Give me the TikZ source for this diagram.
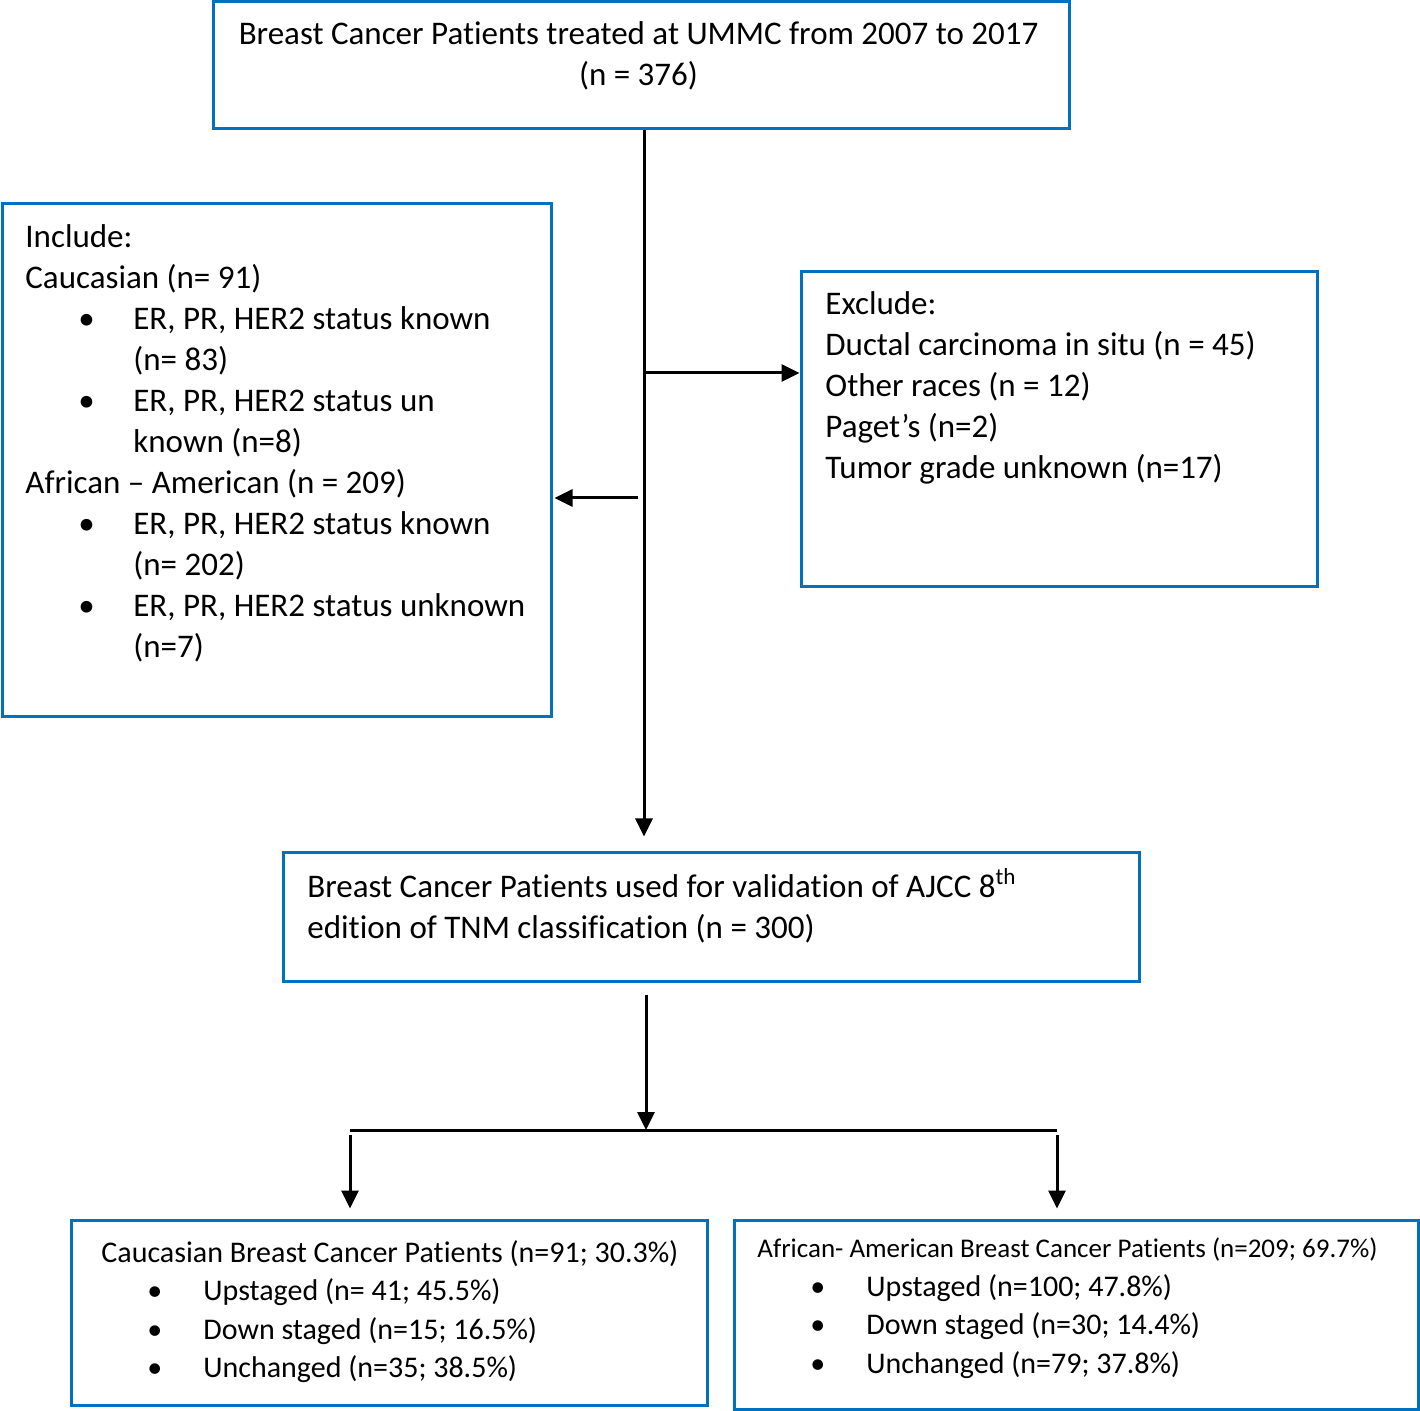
\documentclass[tikz,border=0pt]{standalone}
\usepackage{fontspec}
\setmainfont{Carlito}[Ligatures=NoCommon]
\usetikzlibrary{arrows.meta,fit}
\definecolor{boxblue}{HTML}{0070C0}
\newcommand\bl[2]{\hspace*{#1}\makebox[#2][l]{•}}
\newcommand\hg[1]{\hspace*{#1}}
\begin{document}
\begin{tikzpicture}[x=0.5pt,y=-0.5pt,
  box/.style={draw=boxblue,line width=1.5pt,inner sep=0pt},
  txt/.style={inner sep=0pt,align=left,font=\fontsize{16.5pt}{20.5pt}\selectfont},
  stxt/.style={inner sep=0pt,align=left,font=\fontsize{15pt}{19.25pt}\selectfont},
  arr/.style={line width=1.5pt,-{Triangle[length=9pt,width=8.5pt]}},
  ln/.style={line width=1.5pt}]
\useasboundingbox (0,0) rectangle (1420,1411);
% boxes
\node[box,fit={(213,2)(1069,129)}] (top) {};
\node[box,fit={(2,204)(551,717)}] (incl) {};
\node[box,fit={(801,272)(1317,587)}] (excl) {};
\node[box,fit={(283,853)(1139,981)}] (mid) {};
\node[box,fit={(71,1220)(707,1405)}] (cauc) {};
\node[box,fit={(734,1220)(1418,1409)}] (afam) {};
% texts (anchor = baseline of last line)
\node[txt,align=center,anchor=base] (topT) at (638.5,86)
  {Breast Cancer Patients treated at UMMC from 2007 to 2017\\(n = 376)};
\node[txt,anchor=base west] (inclT) at (25,658)
  {Include:\\
   Caucasian (n= 91)\\
   \bl{26.5pt}{27.5pt}ER, PR, HER2 status known\\
   \hg{54pt}(n= 83)\\
   \bl{26.5pt}{27.5pt}ER, PR, HER2 status un\\
   \hg{54pt}known (n=8)\\
   African – American (n = 209)\\
   \bl{26.5pt}{27.5pt}ER, PR, HER2 status known\\
   \hg{54pt}(n= 202)\\
   \bl{26.5pt}{27.5pt}ER, PR, HER2 status unknown\\
   \hg{54pt}(n=7)};
\node[txt,anchor=base west] (exclT) at (825,479)
  {Exclude:\\
   Ductal carcinoma in situ (n = 45)\\
   Other races (n = 12)\\
   Paget’s (n=2)\\
   Tumor grade unknown (n=17)};
\node[txt,anchor=base west] (midT) at (307,938)
  {Breast Cancer Patients used for validation of AJCC 8\textsuperscript{th}\\
   edition of TNM classification (n = 300)};
\node[stxt,anchor=base west] (caucT) at (101,1377.5)
  {Caucasian Breast Cancer Patients (n=91; 30.3\%)\\
   \bl{23pt}{28pt}Upstaged (n= 41; 45.5\%)\\
   \bl{23pt}{28pt}Down staged (n=15; 16.5\%)\\
   \bl{23pt}{28pt}Unchanged (n=35; 38.5\%)};
\node[stxt,anchor=base west] (afamT) at (757,1373)
  {{\fontsize{13.5pt}{19pt}\selectfont African- American Breast Cancer Patients (n=209; 69.7\%)}\\
   \bl{26.5pt}{28pt}Upstaged (n=100; 47.8\%)\\
   \bl{26.5pt}{28pt}Down staged (n=30; 14.4\%)\\
   \bl{26.5pt}{28pt}Unchanged (n=79; 37.8\%)};
% junction coordinates
\coordinate (spine) at (644,373);
\coordinate (jl) at (638,498);
\coordinate (jm) at (646,1130);
\coordinate (bl) at (350,1130);
\coordinate (br) at (1057,1130);
% connectors
\draw[arr,shorten >=7.5pt] (top.south -| spine) -- (mid.north -| spine);
\draw[arr] (spine) -- (spine -| excl.west);
\draw[arr,shorten >=1pt] (jl) -- (jl -| incl.east);
\draw[arr,shorten <=6pt] (mid.south -| jm) -- (jm);
\draw[ln] (bl) -- (br);
\draw[arr,shorten <=2.5pt,shorten >=5pt] (bl) -- (bl |- cauc.north);
\draw[arr,shorten <=2.5pt,shorten >=5pt] (br) -- (br |- afam.north);
\end{tikzpicture}
\end{document}
